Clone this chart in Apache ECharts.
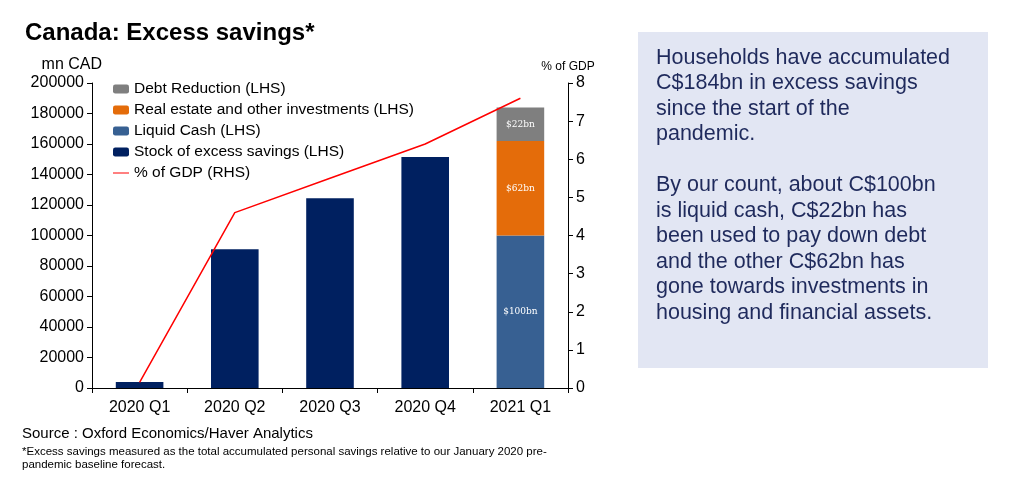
<!DOCTYPE html>
<html>
<head>
<meta charset="utf-8">
<script src="https://cdn.jsdelivr.net/npm/echarts@6/dist/echarts.min.js"></script>
<style>
html,body{margin:0;padding:0;background:#fff;}
#chart{width:1015px;height:490px;}
</style>
</head>
<body>
<div id="chart"></div>
<script>
var categories = ['2020 Q1', '2020 Q2', '2020 Q3', '2020 Q4', '2021 Q1']
var stockData = [4000, 91000, 124500, 151500, '-']
var cashData = ['-', '-', '-', '-', 100000]
var realEstateData = ['-', '-', '-', '-', 62000]
var debtData = ['-', '-', '-', '-', 22000]
var gdpData = [0.15, 4.6, 5.5, 6.4, 7.6]
var leftTicks = [0, 20000, 40000, 60000, 80000, 100000, 120000, 140000, 160000, 180000, 200000]

var chart = echarts.init(document.getElementById('chart'))
var font = 'Liberation Sans, Arial, sans-serif'

var option = {
    animation: false,
    textStyle: {fontFamily: font},
    title: {
        text: 'Canada: Excess savings*',
        left: 20, top: 16,
        textStyle: {fontSize: 24, fontWeight: 'bold', color: '#000', fontFamily: font}
    },
    legend: {
        orient: 'vertical',
        left: 108, top: 76,
        itemWidth: 16, itemHeight: 9, itemGap: 5,
        textStyle: {fontSize: 15.5, color: '#000'},
        data: ['Debt Reduction (LHS)', 'Real estate and other investments (LHS)', 'Liquid Cash (LHS)', 'Stock of excess savings (LHS)',
            {name: '% of GDP (RHS)', icon: 'path://M0,4L16,4L16,5L0,5Z'}]
    },
    grid: {left: 92, right: 447, top: 83, bottom: 102},
    xAxis: {
        type: 'category',
        data: categories,
        axisLine: {lineStyle: {color: '#000'}},
        axisTick: {show: true, alignWithLabel: false, lineStyle: {color: '#000'}},
        axisLabel: {fontSize: 16, color: '#000', margin: 12}
    },
    yAxis: [
        {
            type: 'value', min: 0, max: 200000, interval: 20000,
            name: 'mn CAD', nameGap: 10,
            nameTextStyle: {fontSize: 16, color: '#000', align: 'right', padding: [0, -10, 0, 0]},
            axisLine: {show: true, lineStyle: {color: '#000'}},
            axisTick: {show: true, lineStyle: {color: '#000'}},
            axisLabel: {fontSize: 16, color: '#000', formatter: function (v) { return leftTicks.indexOf(v) >= 0 ? String(v) : '' }},
            splitLine: {show: false}
        },
        {
            type: 'value', min: 0, max: 8, interval: 1,
            name: '% of GDP', nameGap: 10,
            nameTextStyle: {fontSize: 12, color: '#000'},
            axisLine: {show: true, lineStyle: {color: '#000'}},
            axisTick: {show: true, lineStyle: {color: '#000'}},
            axisLabel: {fontSize: 16, color: '#000'},
            splitLine: {show: false}
        }
    ],
    series: [
        {name: 'Stock of excess savings (LHS)', type: 'bar', stack: 's', barWidth: '50%', data: stockData, itemStyle: {color: '#002060'}},
        {name: 'Liquid Cash (LHS)', type: 'bar', stack: 's', data: cashData, itemStyle: {color: '#376092'},
            label: {show: true, formatter: '$100bn', color: '#fff', fontSize: 9, fontFamily: 'DejaVu Serif'}},
        {name: 'Real estate and other investments (LHS)', type: 'bar', stack: 's', data: realEstateData, itemStyle: {color: '#E46C0A'},
            label: {show: true, formatter: '$62bn', color: '#fff', fontSize: 9, fontFamily: 'DejaVu Serif'}},
        {name: 'Debt Reduction (LHS)', type: 'bar', stack: 's', data: debtData, itemStyle: {color: '#7F7F7F'},
            label: {show: true, formatter: '$22bn', color: '#fff', fontSize: 9, fontFamily: 'DejaVu Serif'}},
        {name: '% of GDP (RHS)', type: 'line', yAxisIndex: 1, data: gdpData, symbol: 'none',
            lineStyle: {color: '#FF0000', width: 1.5}, itemStyle: {color: '#FF0000'}}
    ],
    graphic: [
        {type: 'text', left: 22, top: 426, style: {text: 'Source : Oxford Economics/Haver Analytics', fontSize: 15, fill: '#000', fontFamily: font}},
        {type: 'text', left: 22, top: 445, style: {text: '*Excess savings measured as the total accumulated personal savings relative to our January 2020 pre-\npandemic baseline forecast.', fontSize: 11.5, lineHeight: 13, fill: '#000', fontFamily: font}},
        {type: 'rect', shape: {x: 638, y: 32, width: 350, height: 336}, style: {fill: '#E2E6F3'}},
        {type: 'text', left: 656, top: 45, style: {
            text: 'Households have accumulated\nC$184bn in excess savings\nsince the start of the\npandemic.\n\nBy our count, about C$100bn\nis liquid cash, C$22bn has\nbeen used to pay down debt\nand the other C$62bn has\ngone towards investments in\nhousing and financial assets.',
            fontSize: 21.5, lineHeight: 25.5, fill: '#1F2A5C', fontFamily: font}}
    ]
}
chart.setOption(option)
</script>
</body>
</html>
